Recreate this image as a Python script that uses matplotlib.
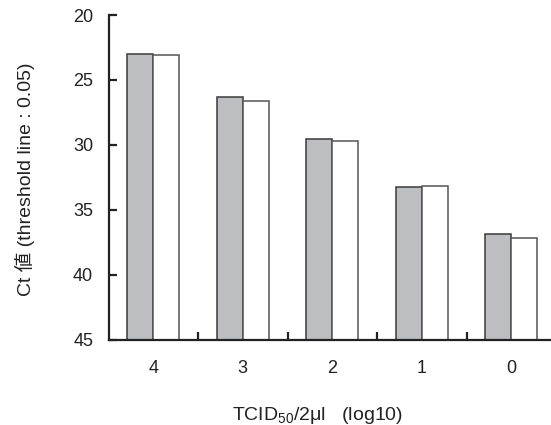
import matplotlib
matplotlib.use("Agg")
import matplotlib.pyplot as plt
import numpy as np

plt.rcParams['font.family'] = ['Liberation Sans', 'Noto Sans CJK JP', 'DejaVu Sans']

categories = ['4', '3', '2', '1', '0']
series_gray = [23.0, 26.35, 29.55, 33.25, 36.85]
series_white = [23.1, 26.6, 29.7, 33.15, 37.15]
yticks = [20, 25, 30, 35, 40, 45]

W, H = 551, 425
fig = plt.figure(figsize=(W/100, H/100), dpi=100)
left, right = 108.5, 556.0
top, bottom = 15.0, 339.5
ax = fig.add_axes([left/W, 1-bottom/H, (right-left)/W, (bottom-top)/H])

x = np.arange(len(categories))
bw = 0.29
base = 45
ax.bar(x - bw/2, np.array(series_gray) - base, bottom=base, width=bw,
       color='#bdbec1', edgecolor='#3a3a3a', linewidth=1.1, zorder=2)
ax.bar(x + bw/2, np.array(series_white) - base, bottom=base, width=bw,
       color='white', edgecolor='#555555', linewidth=1.1, zorder=2)

ax.set_ylim(45, 20)
ax.set_xlim(-0.5, len(categories) - 0.5)
ax.set_yticks(yticks)
ax.set_yticklabels([str(t) for t in yticks], fontsize=13, color='#222222')
ax.set_xticks(x)
ax.set_xticklabels(categories, fontsize=13, color='#222222')
ax.set_xticks(np.arange(0.5, len(categories) - 0.5, 1.0), minor=True)
ax.tick_params(axis='x', which='major', length=0, pad=15)
ax.tick_params(axis='x', which='minor', direction='in', length=6, width=1.6, color='#222222')
ax.tick_params(axis='y', direction='in', length=6, width=1.6, color='#222222', pad=11)

for s in ['top', 'right']:
    ax.spines[s].set_visible(False)
for s in ['left', 'bottom']:
    ax.spines[s].set_linewidth(1.6)
    ax.spines[s].set_color('#222222')

fig.text(25/W, 1-179/H, 'Ct 値 (threshold line : 0.05)', rotation=90,
         ha='center', va='center', fontsize=14, color='#222222')
fig.text(318/W, 1-416/H, 'TCID$_{\\mathregular{50}}$/2μl   (log10)',
         ha='center', va='center', fontsize=14, color='#222222')

fig.savefig('out.png', dpi=100)
